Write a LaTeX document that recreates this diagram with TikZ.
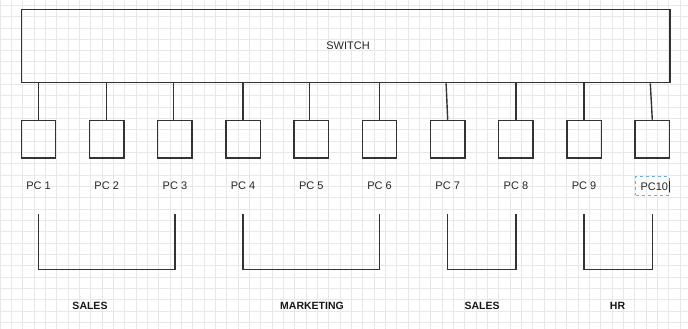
\documentclass[tikz,border=0pt]{standalone}
\usepackage{fontspec}
\setmainfont{Liberation Sans}
\begin{document}
\begin{tikzpicture}[x=1pt,y=-1pt,
  line/.style={draw=black!80,line width=1.4pt},
  pcbox/.style={line,rectangle,minimum width=34.4pt,minimum height=37.7pt,inner sep=0pt},
  pclabel/.style={font=\fontsize{11}{13}\selectfont,text=black!85,inner sep=0pt},
  grouplabel/.style={font=\fontsize{10.5}{12}\selectfont\bfseries,text=black!90,inner sep=0pt},
  gridline/.style={draw=black!9,line width=0.5pt}]
% canvas and background grid
\fill[white] (0,0) rectangle (688,329);
\useasboundingbox (0,0) rectangle (688,329);
\foreach \k in {0,...,60} \draw[gridline] (11.33*\k,0) -- (11.33*\k,329);
\foreach \k in {0,...,28} \draw[gridline] (0,5.1+11.33*\k) -- (688,5.1+11.33*\k);

% switch
\node[line,rectangle,minimum width=648.7pt,minimum height=73.4pt,inner sep=0pt] (sw) at (345.65,46) {};
\node[pclabel] (swlabel) at (348,46) {SWITCH};

% computers, their labels and their links to the switch
\foreach \i/\dx/\tx in {1/0/0,2/0/0,3/-1.6/-1.6,4/0/0,5/-1.6/-1.6,6/0/0,7/0/-1.6,8/0/0,9/0/0,10/0/-2} {
  \node[pcbox] (pc\i) at ({38.5+68.2*(\i-1)},139.3) {};
  \draw[line] ([xshift=\dx pt]pc\i.north) -- ([xshift=\tx pt]pc\i.north |- sw.south);
}
\foreach \i in {1,...,9}
  \node[pclabel] (lab\i) at ({38.5+68.2*(\i-1)},185.3) {PC \i};

% label PC10 in its edit frame
\node[draw=cyan!70!blue!60,dashed,line width=0.7pt,minimum width=33.6pt,minimum height=18.3pt,inner sep=0pt] (lab10) at (652.5,185.85) {};
\node[pclabel,anchor=west] (lab10text) at (640.3,186.5) {PC10};
\draw[black!85,line width=0.6pt] (lab10text.east) ++(0.8,-5.5) coordinate (cur) -- ++(0,11);

% department brackets
\draw[line] (pc1.center |- 0,214) -- (pc1.center |- 0,269.3) -- (pc3.center |- 0,269.3) -- (pc3.center |- 0,214);
\draw[line] (pc4.center |- 0,214) -- (pc4.center |- 0,269.3) -- (pc6.center |- 0,269.3) -- (pc6.center |- 0,214);
\draw[line] (pc7.center |- 0,214) -- (pc7.center |- 0,269.3) -- (pc8.center |- 0,269.3) -- (pc8.center |- 0,214);
\draw[line] (pc9.center |- 0,214) -- (pc9.center |- 0,269.3) -- (pc10.center |- 0,269.3) -- (pc10.center |- 0,214);

\node[grouplabel] (g1) at (90,306) {SALES};
\node[grouplabel] (g2) at (312,306) {MARKETING};
\node[grouplabel] (g3) at (482,306) {SALES};
\node[grouplabel] (g4) at (617.5,306) {HR};
\end{tikzpicture}
\end{document}
